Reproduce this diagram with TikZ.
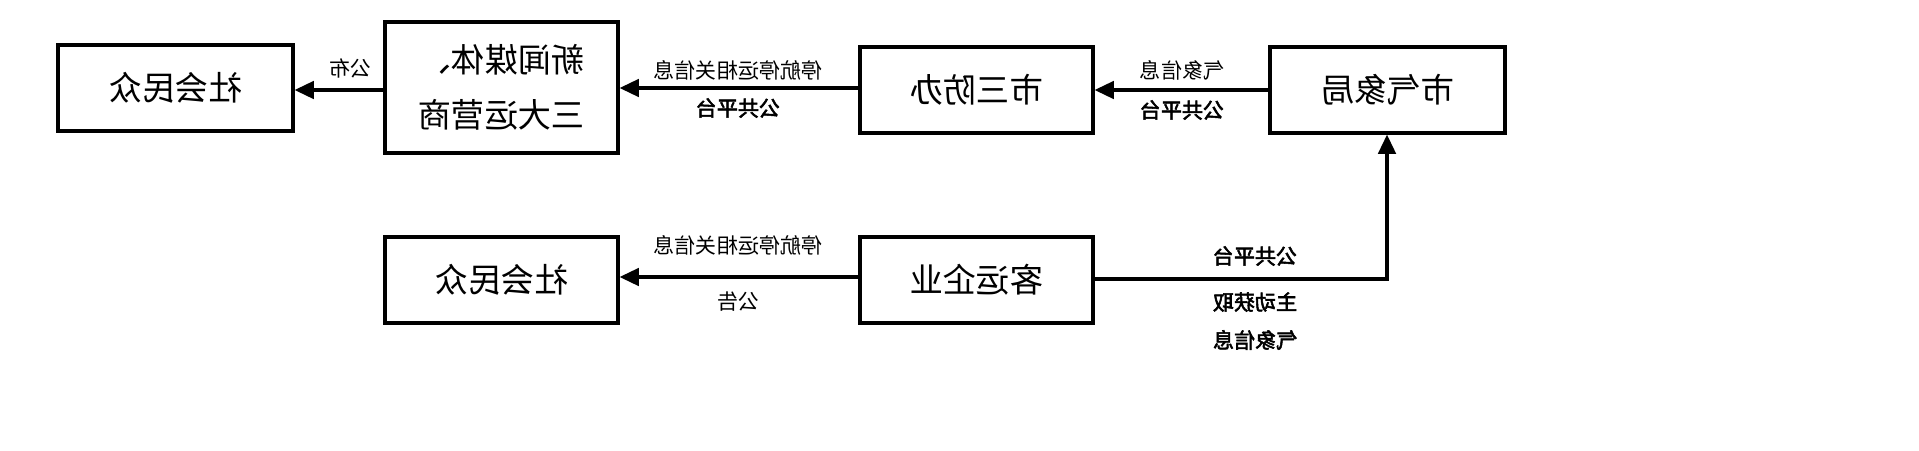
\documentclass[tikz,border=0pt]{standalone}
\usepackage{fontspec}
\usepackage{graphicx}
\usepackage{tikz}
\usetikzlibrary{arrows.meta}
\newfontfamily\cjk{Noto Sans CJK SC}
\newfontfamily\cjkbold[FakeBold=2.5]{Noto Sans CJK SC}
\newcommand{\mir}[1]{\reflectbox{#1}}

\begin{document}
\begin{tikzpicture}[x=0.02cm, y=-0.02cm,
  box/.style={draw, line width=1.8pt, inner sep=0pt, font=\cjk\fontsize{19}{23}\selectfont},
  lab/.style={inner sep=0pt, font=\cjk\fontsize{12}{14}\selectfont},
  blab/.style={inner sep=0pt, font=\cjkbold\fontsize{12}{14}\selectfont},
  flow/.style={line width=1.8pt, -{Triangle[length=11pt, width=10pt]}}]
\useasboundingbox (0,0) rectangle (1919,450);

\node[box, minimum width=235*0.02cm, minimum height=86*0.02cm] (pubA) at (175.5,88) {\mir{社会民众}};
\node[box, minimum width=233*0.02cm, minimum height=131*0.02cm, align=center] (media) at (501.5,87.5) {\mir{新闻媒体、}\\[8pt]\mir{三大运营商}};
\node[box, minimum width=233*0.02cm, minimum height=86*0.02cm] (office) at (976.5,90) {\mir{市三防办}};
\node[box, minimum width=235*0.02cm, minimum height=86*0.02cm] (bureau) at (1387.5,90) {\mir{市气象局}};
\node[box, minimum width=233*0.02cm, minimum height=86*0.02cm] (pubB) at (501.5,280) {\mir{社会民众}};
\node[box, minimum width=233*0.02cm, minimum height=86*0.02cm] (firm) at (976.5,280) {\mir{客运企业}};

\coordinate (turn) at (1387,279);

\draw[flow] (media.west |- 0,90) -- (pubA.east |- 0,90);
\draw[flow] (office.west |- 0,88) -- (media.east |- 0,88);
\draw[flow] (bureau.west) -- (office.east);
\draw[flow] (firm.west |- 0,277) -- (pubB.east |- 0,277);
\draw[flow] (firm.east |- turn) -- (turn) -- (bureau.south -| turn);

\node[lab] (pubLab) at (350,68) {\mir{公布}};
\node[lab] (infoA) at (738,70) {\mir{停航停运相关信息}};
\node[blab] (platA) at (738,108) {\mir{公共平台}};
\node[lab] (wxA) at (1182,70) {\mir{气象信息}};
\node[blab] (platB) at (1182,110) {\mir{公共平台}};
\node[lab] (infoB) at (738,245) {\mir{停航停运相关信息}};
\node[lab] (notice) at (738,302) {\mir{公告}};
\node[blab] (platC) at (1255,256) {\mir{公共平台}};
\node[blab] (fetch) at (1255,302) {\mir{主动获取}};
\node[blab] (wxB) at (1255,340) {\mir{气象信息}};
\end{tikzpicture}
\end{document}
